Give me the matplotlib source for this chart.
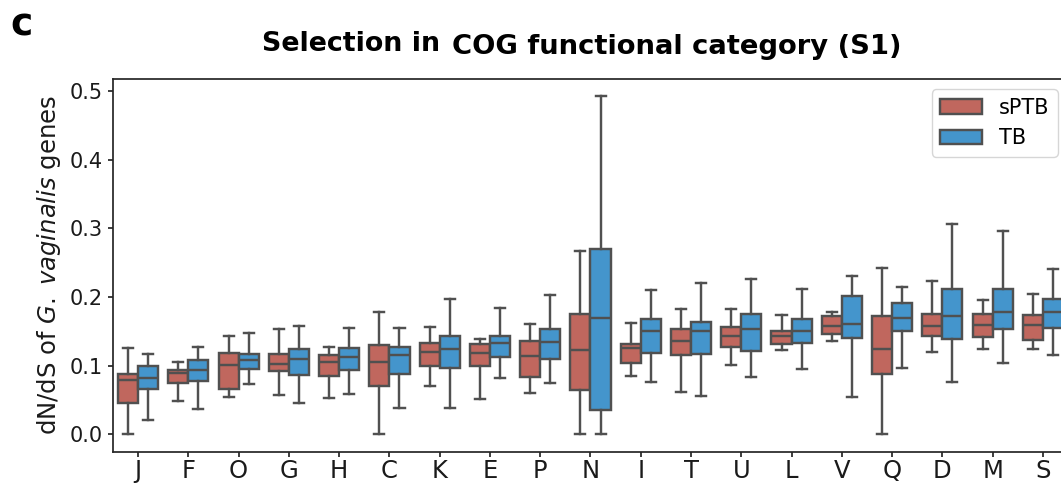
import matplotlib
matplotlib.use('Agg')
import matplotlib.pyplot as plt
from matplotlib.patches import Patch

# COG categories, order as on the x axis
cats = ['J', 'F', 'O', 'G', 'H', 'C', 'K', 'E', 'P', 'N', 'I', 'T', 'U', 'L', 'V', 'Q', 'D', 'M', 'S']

# five-number summaries: whisker low, Q1, median, Q3, whisker high
sptb_lo  = [0.000, 0.049, 0.055, 0.057, 0.053, 0.000, 0.071, 0.052, 0.060, 0.000, 0.085, 0.062, 0.101, 0.123, 0.136, 0.000, 0.120, 0.125, 0.124]
sptb_q1  = [0.046, 0.075, 0.066, 0.093, 0.085, 0.070, 0.100, 0.099, 0.084, 0.065, 0.104, 0.115, 0.128, 0.131, 0.146, 0.088, 0.143, 0.142, 0.138]
sptb_med = [0.080, 0.089, 0.101, 0.103, 0.105, 0.106, 0.120, 0.119, 0.114, 0.123, 0.126, 0.136, 0.143, 0.144, 0.158, 0.125, 0.158, 0.159, 0.159]
sptb_q3  = [0.088, 0.094, 0.118, 0.117, 0.115, 0.130, 0.133, 0.131, 0.136, 0.175, 0.132, 0.153, 0.157, 0.151, 0.172, 0.173, 0.175, 0.175, 0.174]
sptb_hi  = [0.126, 0.105, 0.144, 0.154, 0.127, 0.178, 0.157, 0.139, 0.161, 0.267, 0.162, 0.183, 0.182, 0.174, 0.179, 0.243, 0.223, 0.196, 0.204]

tb_lo  = [0.021, 0.037, 0.073, 0.046, 0.059, 0.038, 0.038, 0.082, 0.075, 0.000, 0.076, 0.056, 0.083, 0.095, 0.055, 0.097, 0.077, 0.104, 0.116]
tb_q1  = [0.066, 0.078, 0.095, 0.086, 0.094, 0.088, 0.097, 0.113, 0.110, 0.036, 0.118, 0.117, 0.121, 0.133, 0.141, 0.151, 0.139, 0.154, 0.155]
tb_med = [0.082, 0.094, 0.109, 0.110, 0.113, 0.116, 0.125, 0.133, 0.134, 0.169, 0.150, 0.150, 0.153, 0.151, 0.161, 0.170, 0.172, 0.178, 0.179]
tb_q3  = [0.100, 0.109, 0.117, 0.125, 0.126, 0.128, 0.143, 0.143, 0.153, 0.270, 0.168, 0.164, 0.176, 0.168, 0.201, 0.191, 0.212, 0.212, 0.197]
tb_hi  = [0.117, 0.127, 0.148, 0.158, 0.155, 0.155, 0.197, 0.184, 0.203, 0.493, 0.211, 0.221, 0.226, 0.212, 0.230, 0.215, 0.307, 0.296, 0.241]

groups = ['sPTB', 'TB']
red = '#c0675e'
blue = '#4495cc'
gray = '#505050'
lw = 1.75


def stats(lo, q1, med, q3, hi):
    return [dict(whislo=a, q1=b, med=c, q3=d, whishi=e, fliers=[])
            for a, b, c, d, e in zip(lo, q1, med, q3, hi)]


fig = plt.figure(figsize=(10.61, 4.86), dpi=100)
ax = fig.add_axes([0.1065, 0.070, 0.9001, 0.7674])

n = len(cats)
line = dict(color=gray, linewidth=lw)
for st, off, col in [(stats(sptb_lo, sptb_q1, sptb_med, sptb_q3, sptb_hi), -0.2, red),
                     (stats(tb_lo, tb_q1, tb_med, tb_q3, tb_hi), 0.2, blue)]:
    ax.bxp(st, positions=[i + off for i in range(n)], widths=0.4, patch_artist=True,
           showfliers=False, manage_ticks=False,
           boxprops=dict(facecolor=col, edgecolor=gray, linewidth=lw),
           medianprops=line, whiskerprops=line, capprops=line)

ax.set_xlim(-0.5, n - 0.5)
ax.set_ylim(-0.0255, 0.5175)
ax.set_xticks(range(n))
ax.set_xticklabels(cats, fontsize=17.5)
ax.set_yticks([0.0, 0.1, 0.2, 0.3, 0.4, 0.5])
ax.set_yticklabels(['0.0', '0.1', '0.2', '0.3', '0.4', '0.5'], fontsize=15)
ax.tick_params(length=3.6, width=1.25, color='#262626', labelcolor='#1a1a1a')
ax.tick_params(axis='x', pad=1.2)
for s in ax.spines.values():
    s.set_linewidth(1.25)
    s.set_color('#262626')

ax.set_ylabel(r'dN/dS of $\mathit{G.\ vaginalis}$ genes', fontsize=17.5, color='#1a1a1a', labelpad=5)

handles = [Patch(facecolor=red, edgecolor=gray, linewidth=lw),
           Patch(facecolor=blue, edgecolor=gray, linewidth=lw)]
ax.legend(handles, groups, loc='upper right', fontsize=15, frameon=True,
          edgecolor='0.8', fancybox=True)

fig.text(10 / 1061, 1 - 25 / 486, 'c', fontsize=27, fontweight='bold', ha='left', va='center')
fig.text(262 / 1061, 1 - 44 / 486, 'Selection in', fontsize=19.4, fontweight='bold', ha='left', va='center')
fig.text(452 / 1061, 1 - 47 / 486, 'COG functional category (S1)', fontsize=19.7, fontweight='bold', ha='left', va='center')

fig.savefig('out.png', dpi=100)
